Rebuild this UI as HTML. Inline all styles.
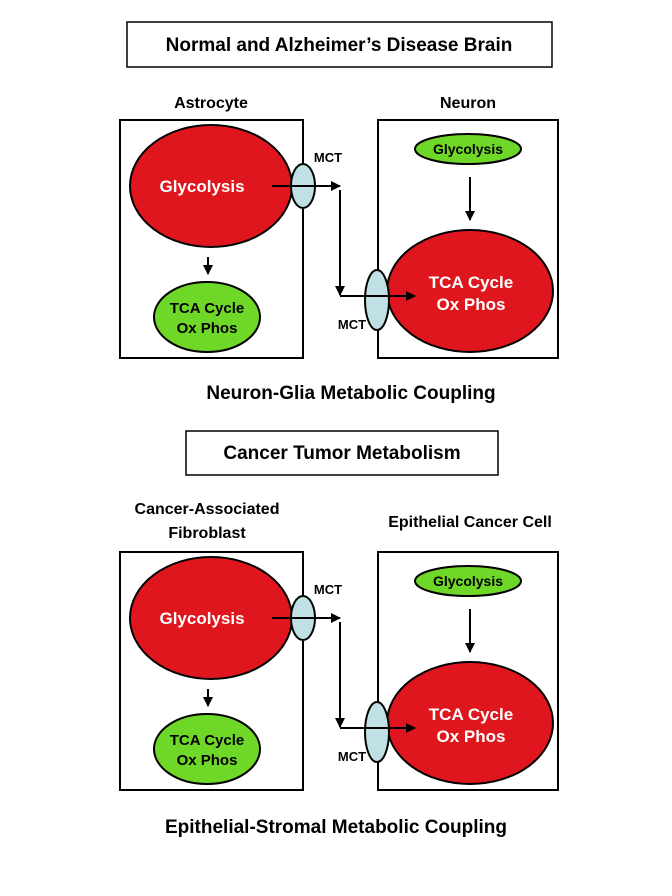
<!DOCTYPE html>
<html><head><meta charset="utf-8"><style>html,body{margin:0;padding:0;background:#fff}svg{display:block}</style></head>
<body>
<svg width="672" height="896" viewBox="0 0 672 896" xmlns="http://www.w3.org/2000/svg" font-family="Liberation Sans, Arial, sans-serif" font-weight="bold">
<defs>
<marker id="a" markerWidth="10" markerHeight="10" refX="9" refY="5" orient="auto" markerUnits="userSpaceOnUse"><path d="M0,0 L10,5 L0,10 z" fill="#000"/></marker>
<g id="d">
<rect x="120" y="120" width="183" height="238" fill="none" stroke="#000" stroke-width="2"/>
<rect x="378" y="120" width="180" height="238" fill="none" stroke="#000" stroke-width="2"/>
<ellipse cx="211" cy="186" rx="81" ry="61" fill="#e0161f" stroke="#000" stroke-width="2"/>
<text x="202" y="192" fill="#fff" font-size="17" text-anchor="middle">Glycolysis</text>
<ellipse cx="303" cy="186" rx="12" ry="22" fill="#bfe0e4" stroke="#000" stroke-width="2"/>
<line x1="272" y1="186" x2="340" y2="186" stroke="#000" stroke-width="2" marker-end="url(#a)"/>
<line x1="340" y1="190" x2="340" y2="295" stroke="#000" stroke-width="2" marker-end="url(#a)"/>
<line x1="208" y1="257" x2="208" y2="274" stroke="#000" stroke-width="2" marker-end="url(#a)"/>
<ellipse cx="207" cy="317" rx="53" ry="35" fill="#6fd727" stroke="#000" stroke-width="2"/>
<text x="207" y="313" font-size="15" text-anchor="middle">TCA Cycle</text>
<text x="207" y="333" font-size="15" text-anchor="middle">Ox Phos</text>
<ellipse cx="470" cy="291" rx="83" ry="61" fill="#e0161f" stroke="#000" stroke-width="2"/>
<ellipse cx="377" cy="300" rx="12" ry="30" fill="#bfe0e4" stroke="#000" stroke-width="2"/>
<line x1="340" y1="296" x2="415" y2="296" stroke="#000" stroke-width="2" marker-end="url(#a)"/>
<text x="471" y="288" fill="#fff" font-size="17" text-anchor="middle">TCA Cycle</text>
<text x="471" y="310" fill="#fff" font-size="17" text-anchor="middle">Ox Phos</text>
<ellipse cx="468" cy="149" rx="53" ry="15" fill="#6fd727" stroke="#000" stroke-width="2"/>
<text x="468" y="154" font-size="14" text-anchor="middle">Glycolysis</text>
<line x1="470" y1="177" x2="470" y2="220" stroke="#000" stroke-width="2" marker-end="url(#a)"/>
<text x="328" y="162" font-size="13" text-anchor="middle">MCT</text>
<text x="352" y="329" font-size="13" text-anchor="middle">MCT</text>
</g>
</defs>
<rect x="127" y="22" width="425" height="45" fill="none" stroke="#000" stroke-width="1.5"/>
<text x="339" y="51" font-size="19" text-anchor="middle">Normal and Alzheimer’s Disease Brain</text>
<text x="211" y="108" font-size="16" text-anchor="middle">Astrocyte</text>
<text x="468" y="108" font-size="16" text-anchor="middle">Neuron</text>
<use href="#d"/>
<text x="351" y="399" font-size="19" text-anchor="middle">Neuron-Glia Metabolic Coupling</text>
<rect x="186" y="431" width="312" height="44" fill="none" stroke="#000" stroke-width="1.5"/>
<text x="342" y="459" font-size="19" text-anchor="middle">Cancer Tumor Metabolism</text>
<text x="207" y="514" font-size="16" text-anchor="middle">Cancer-Associated</text>
<text x="207" y="538" font-size="16" text-anchor="middle">Fibroblast</text>
<text x="470" y="527" font-size="16" text-anchor="middle">Epithelial Cancer Cell</text>
<use href="#d" transform="translate(0,432)"/>
<text x="336" y="833" font-size="19" text-anchor="middle">Epithelial-Stromal Metabolic Coupling</text>
</svg>
</body></html>
